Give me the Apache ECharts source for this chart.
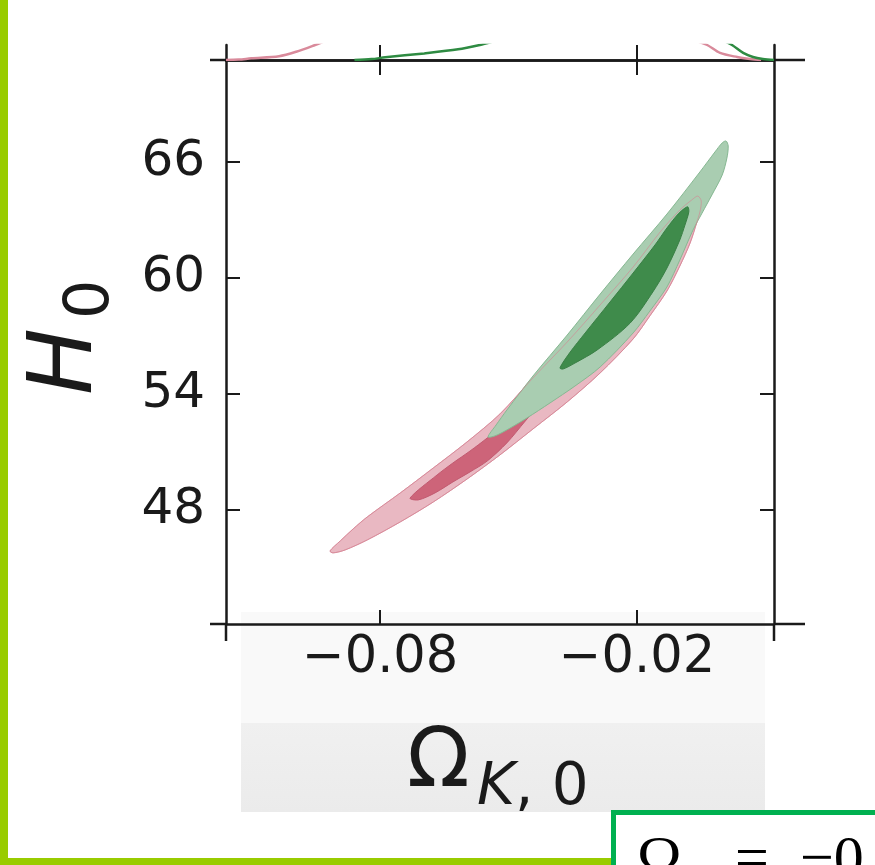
<!DOCTYPE html>
<html>
<head>
<meta charset="utf-8">
<script src="https://cdn.jsdelivr.net/npm/echarts@6/dist/echarts.min.js"></script>
<style>
html,body{margin:0;padding:0;background:#fff;}
#chart{width:875px;height:865px;}
</style>
</head>
<body>
<div id="chart"></div>
<script>
// ---- axis setup ----
const xRange = [-0.116, 0.012];
const yRange = [42.1, 71.28];
const xTicks = [-0.08, -0.02];
const yTicks = [48, 54, 60, 66];

// ---- 2D credible contours (Omega_K0, H0) ----
const red2sigma = [[-0.0917,45.88],[-0.0893,46.40],[-0.0863,47.02],[-0.0830,47.64],[-0.0753,48.88],[-0.0676,50.17],[-0.0597,51.52],[-0.0520,52.97],[-0.0443,54.83],[-0.0363,56.69],[-0.0286,58.61],[-0.0209,60.57],[-0.0146,62.38],[-0.0100,63.52],[-0.0072,64.04],[-0.0058,64.24],
  [-0.0050,63.99],[-0.0053,63.42],[-0.0060,62.90],[-0.0076,61.81],[-0.0100,60.62],[-0.0130,59.33],[-0.0170,58.04],[-0.0209,56.85],[-0.0286,55.09],[-0.0363,53.59],[-0.0443,52.19],[-0.0520,50.85],[-0.0597,49.60],[-0.0676,48.41],[-0.0753,47.38],[-0.0830,46.45],[-0.0882,45.93],[-0.0910,45.78]];
const red1sigma = [[-0.0730,48.62],[-0.0667,49.81],[-0.0630,50.43],[-0.0590,51.05],[-0.0550,51.72],[-0.0504,52.55],[-0.0450,53.69],[-0.0380,55.04],[-0.0310,56.59],[-0.0258,57.73],
  [-0.0268,57.10],[-0.0333,55.55],[-0.0403,54.10],[-0.0461,52.60],[-0.0504,51.47],[-0.0550,50.53],[-0.0590,49.97],[-0.0630,49.45],[-0.0672,48.88],[-0.0711,48.52]];
const green2sigma = [[-0.0548,51.78],[-0.0529,52.40],[-0.0504,53.17],[-0.0443,54.93],[-0.0363,57.05],[-0.0286,59.17],[-0.0209,61.24],[-0.0130,63.31],[-0.0053,65.49],[-0.0018,66.52],[-0.0001,66.99],[0.0008,67.09],
  [0.0013,66.83],[0.0010,66.21],[-0.0001,65.33],[-0.0025,64.30],[-0.0048,63.36],[-0.0069,62.49],[-0.0100,60.93],[-0.0130,59.54],[-0.0170,58.29],[-0.0209,57.16],[-0.0286,55.40],[-0.0345,54.41],[-0.0403,53.54],[-0.0457,52.76],[-0.0504,52.14],[-0.0532,51.83]];
const green1sigma = [[-0.0380,55.35],[-0.0356,56.17],[-0.0321,57.16],[-0.0263,58.76],[-0.0209,60.26],[-0.0158,61.71],[-0.0130,62.59],[-0.0104,63.31],[-0.0088,63.62],[-0.0081,63.68],
  [-0.0079,63.42],[-0.0088,62.74],[-0.0100,61.97],[-0.0130,60.52],[-0.0163,59.28],[-0.0216,57.67],[-0.0293,56.28],[-0.0345,55.60],[-0.0373,55.29]];

// ---- 1D marginal tails visible in the panel above ----
const redMargLeft = [[-0.116,0],[-0.113,0.03],[-0.1101,0.11],[-0.1036,0.25],[-0.0996,0.55],[-0.0952,1.0],[-0.093,1.25]];
const greenMargLeft = [[-0.086,0],[-0.0820,0.06],[-0.0788,0.18],[-0.0697,0.44],[-0.0618,0.71],[-0.0567,1.0],[-0.054,1.2]];
const redMargRight = [[-0.006,1.25],[-0.0036,1.0],[-0.0006,0.47],[0.0034,0.2],[0.0064,0.07],[0.0090,0]];
const greenMargRight = [[0.0005,1.25],[0.0022,1.0],[0.0048,0.47],[0.0071,0.2],[0.0094,0.07],[0.012,0]];

const INK = '#1a1a1a';
const fmtX = v => v.toFixed(2).replace('-', '\u2212');

function poly(pts, fill, stroke, lw) {
  return {
    type: 'custom', xAxisIndex: 0, yAxisIndex: 0, data: pts, silent: true, clip: true,
    renderItem: (params, api) => {
      if (params.dataIndex !== 0) return null;
      const points = pts.map(p => api.coord(p));
      return { type: 'polygon', shape: { points: points, smooth: 0.3 },
        style: { fill: fill, stroke: stroke, lineWidth: lw } };
    }
  };
}
function marg(pts, color) {
  return { type: 'line', xAxisIndex: 2, yAxisIndex: 2, data: pts, smooth: 0.3, symbol: 'none',
    clip: true, silent: true, lineStyle: { color: color, width: 2.5 } };
}

const chart = echarts.init(document.getElementById('chart'), null, { renderer: 'canvas' });
const lineSty = { color: INK, width: 2.5 };
const tickSty = { color: INK, width: 2 };

const option = {
  backgroundColor: '#ffffff',
  animation: false,
  grid: [
    { left: 226, top: 60, width: 548, height: 564, containLabel: false },
    { left: 226, top: 45, width: 548, height: 15, containLabel: false }
  ],
  xAxis: [
    { type: 'value', gridIndex: 0, position: 'bottom', min: xRange[0], max: xRange[1],
      axisLine: { show: true, onZero: false, lineStyle: lineSty },
      axisTick: { show: true, inside: true, length: 14, customValues: xTicks, lineStyle: tickSty },
      axisLabel: { show: true, customValues: xTicks, formatter: fmtX, margin: 9,
        fontFamily: 'DejaVu Sans', fontSize: 51, color: INK },
      splitLine: { show: false } },
    { type: 'value', gridIndex: 0, position: 'top', min: xRange[0], max: xRange[1],
      axisLine: { show: true, onZero: false, lineStyle: lineSty },
      axisTick: { show: true, inside: true, length: 15, customValues: xTicks, lineStyle: tickSty },
      axisLabel: { show: false }, splitLine: { show: false } },
    { type: 'value', gridIndex: 1, position: 'bottom', min: xRange[0], max: xRange[1],
      axisLine: { show: true, onZero: false, lineStyle: lineSty },
      axisTick: { show: true, inside: true, length: 15, customValues: xTicks, lineStyle: tickSty },
      axisLabel: { show: false }, splitLine: { show: false } }
  ],
  yAxis: [
    { type: 'value', gridIndex: 0, position: 'left', min: yRange[0], max: yRange[1],
      axisLine: { show: true, onZero: false, lineStyle: lineSty },
      axisTick: { show: true, inside: true, length: 14, customValues: yTicks, lineStyle: tickSty },
      axisLabel: { show: true, customValues: yTicks, margin: 21,
        fontFamily: 'DejaVu Sans', fontSize: 50, color: INK },
      splitLine: { show: false } },
    { type: 'value', gridIndex: 0, position: 'right', min: yRange[0], max: yRange[1],
      axisLine: { show: true, onZero: false, lineStyle: lineSty },
      axisTick: { show: true, inside: true, length: 14, customValues: yTicks, lineStyle: tickSty },
      axisLabel: { show: false }, splitLine: { show: false } },
    { type: 'value', gridIndex: 1, position: 'left', min: 0, max: 1,
      axisLine: { show: true, onZero: false, lineStyle: lineSty },
      axisTick: { show: false }, axisLabel: { show: false }, splitLine: { show: false } },
    { type: 'value', gridIndex: 1, position: 'right', min: 0, max: 1,
      axisLine: { show: true, onZero: false, lineStyle: lineSty },
      axisTick: { show: false }, axisLabel: { show: false }, splitLine: { show: false } }
  ],
  series: [
    poly(red2sigma, '#e9b8c2', '#dc97a6', 1),
    poly(red1sigma, '#cd6479', '#c25a70', 1),
    poly(green2sigma, '#a9cdb1', '#86b892', 1),
    poly(green1sigma, '#3f8b4b', '#3a7f45', 1),
    poly(red2sigma, 'none', 'rgba(214,130,145,0.6)', 1),
    marg(redMargLeft, '#d98a9b'),
    marg(greenMargLeft, '#2e8b42'),
    marg(redMargRight, '#d98a9b'),
    marg(greenMargRight, '#2e8b42')
  ],
  graphic: [
    // light band behind the x labels
    { type: 'rect', z: -10, silent: true, shape: { x: 241, y: 612, width: 524, height: 111 }, style: { fill: '#f9f9f9' } },
    { type: 'rect', z: -10, silent: true, shape: { x: 241, y: 723, width: 524, height: 89 },
      style: { fill: new echarts.graphic.LinearGradient(0, 0, 0, 1, [{ offset: 0, color: '#f0f0f0' }, { offset: 1, color: '#ebebeb' }]) } },
    // frame extensions from neighbouring panels
    { type: 'line', z: 5, silent: true, shape: { x1: 210, y1: 60, x2: 226, y2: 60 }, style: { stroke: INK, lineWidth: 2.5 } },
    { type: 'line', z: 5, silent: true, shape: { x1: 774, y1: 60, x2: 805, y2: 60 }, style: { stroke: INK, lineWidth: 2.5 } },
    { type: 'line', z: 5, silent: true, shape: { x1: 210, y1: 624, x2: 226, y2: 624 }, style: { stroke: INK, lineWidth: 2.5 } },
    { type: 'line', z: 5, silent: true, shape: { x1: 774, y1: 624, x2: 805, y2: 624 }, style: { stroke: INK, lineWidth: 2.5 } },
    { type: 'line', z: 5, silent: true, shape: { x1: 226, y1: 624, x2: 226, y2: 641 }, style: { stroke: INK, lineWidth: 2.5 } },
    { type: 'line', z: 5, silent: true, shape: { x1: 774, y1: 624, x2: 774, y2: 641 }, style: { stroke: INK, lineWidth: 2.5 } },
    // x axis name  Omega_{K,0}
    { type: 'text', z: 5, silent: true, x: 407, y: 765,
      style: { text: '\u03A9', font: '82px "DejaVu Sans"', fill: INK, align: 'left', verticalAlign: 'middle' } },
    { type: 'text', z: 5, silent: true, x: 477, y: 789,
      style: { text: 'K', font: 'italic 58px "DejaVu Sans"', fill: INK, align: 'left', verticalAlign: 'middle' } },
    { type: 'text', z: 5, silent: true, x: 515, y: 789,
      style: { text: ', 0', font: '58px "DejaVu Sans"', fill: INK, align: 'left', verticalAlign: 'middle' } },
    // y axis name  H_0 (rotated)
    { type: 'group', x: 100, y: 395, rotation: Math.PI / 2, silent: true, z: 5,
      children: [
        { type: 'text', x: 0, y: -32, style: { text: 'H', font: 'italic 89px "DejaVu Sans"', fill: INK, align: 'left', verticalAlign: 'middle' } },
        { type: 'text', x: 76, y: -8, style: { text: '0', font: '62px "DejaVu Sans"', fill: INK, align: 'left', verticalAlign: 'middle' } }
      ] },
    // slide decorations
    { type: 'rect', z: 6, silent: true, shape: { x: 0, y: 0, width: 8, height: 858 }, style: { fill: '#99cc00' } },
    { type: 'rect', z: 6, silent: true, shape: { x: 0, y: 858, width: 611, height: 7 }, style: { fill: '#99cc00' } },
    { type: 'rect', z: 6, silent: true, shape: { x: 613.5, y: 812.5, width: 300, height: 100 }, style: { fill: '#ffffff', stroke: '#00b050', lineWidth: 5 } },
    { type: 'text', z: 7, silent: true, x: 637, y: 861,
      style: { text: '\u03A9', font: '60px "Liberation Serif"', fill: '#000', align: 'left', verticalAlign: 'middle' } },
    { type: 'text', z: 7, silent: true, x: 676, y: 885,
      style: { text: 'K', font: 'italic 40px "Liberation Serif"', fill: '#000', align: 'left', verticalAlign: 'middle' } },
    { type: 'text', z: 7, silent: true, x: 735, y: 861,
      style: { text: '=', font: '60px "Liberation Serif"', fill: '#000', align: 'left', verticalAlign: 'middle' } },
    { type: 'text', z: 7, silent: true, x: 800, y: 861,
      style: { text: '\u22120', font: '60px "Liberation Serif"', fill: '#000', align: 'left', verticalAlign: 'middle' } }
  ]
};
chart.setOption(option);
</script>
</body>
</html>
